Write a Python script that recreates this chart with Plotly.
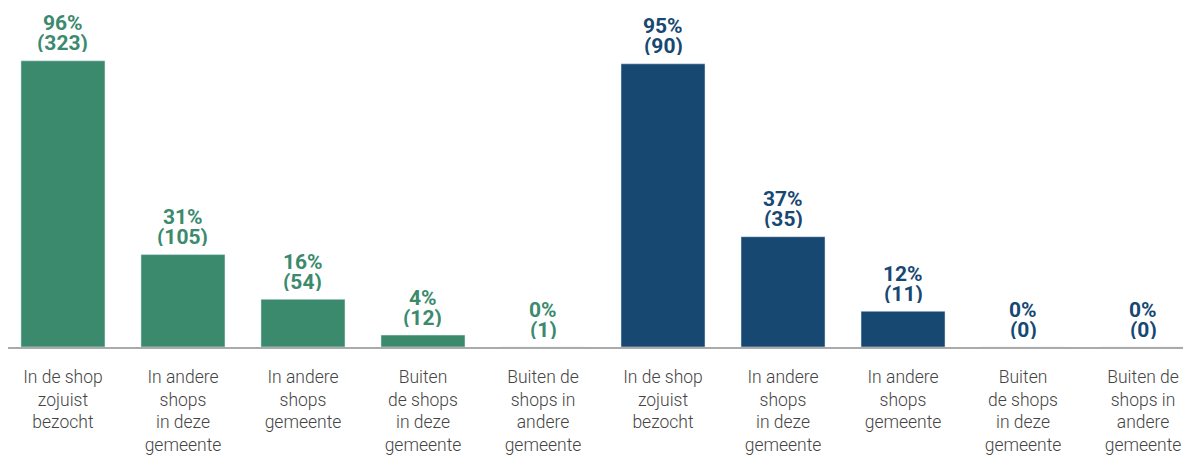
import plotly.graph_objects as go

categories = [
    "In de shop<br>zojuist<br>bezocht",
    "In andere<br>shops<br>in deze<br>gemeente",
    "In andere<br>shops<br>gemeente",
    "Buiten<br>de shops<br>in deze<br>gemeente",
    "Buiten de<br>shops in<br>andere<br>gemeente",
]
group1_pct = [96, 31, 16, 4, 0]
group1_n = [323, 105, 54, 12, 1]
group2_pct = [95, 37, 12, 0, 0]
group2_n = [90, 35, 11, 0, 0]

green = "#3B8A6E"
blue = "#174872"

x1 = list(range(5))
x2 = list(range(5, 10))

fig = go.Figure()
fig.add_trace(go.Bar(x=x1, y=group1_pct, marker_color=green, width=0.7, hoverinfo="skip"))
fig.add_trace(go.Bar(x=x2, y=group2_pct, marker_color=blue, width=0.7, hoverinfo="skip"))

val_font = 21
annotations = []
for xs, pcts, ns, col in [(x1, group1_pct, group1_n, green), (x2, group2_pct, group2_n, blue)]:
    for x, p, n in zip(xs, pcts, ns):
        annotations.append(dict(
            x=x, y=p, xref="x", yref="y", text=f"<b>({n})</b>", showarrow=False,
            yanchor="middle", yshift=18, height=19, borderpad=0,
            font=dict(family="Roboto", size=val_font, color=col),
        ))
        annotations.append(dict(
            x=x, y=p, xref="x", yref="y", text=f"<b>{p}%</b>", showarrow=False,
            yanchor="middle", yshift=38, height=19, borderpad=0,
            font=dict(family="Roboto", size=val_font, color=col),
        ))

fig.update_layout(
    width=1193, height=455,
    margin=dict(l=8, r=10, t=0, b=108),
    paper_bgcolor="white", plot_bgcolor="white",
    showlegend=False,
    annotations=annotations,
    font=dict(family="Roboto", size=17.5, color="#444444"),
    xaxis=dict(
        range=[-0.458, 9.333],
        tickvals=x1 + x2,
        ticktext=categories + categories,
        showline=True, linecolor="#aaaaaa", linewidth=1.5,
        ticks="", showgrid=False, zeroline=False, automargin=False,
        tickfont=dict(family="Roboto", size=17.5, color="#444444", weight=300),
        ticklabelstandoff=13,
    ),
    yaxis=dict(range=[0, 116.4], visible=False, showgrid=False, zeroline=False,
               automargin=False),
)

fig.write_html(
    "out.html",
    config={"displayModeBar": False},
    post_script="document.body.style.margin='0';document.body.style.overflow='hidden';",
)
